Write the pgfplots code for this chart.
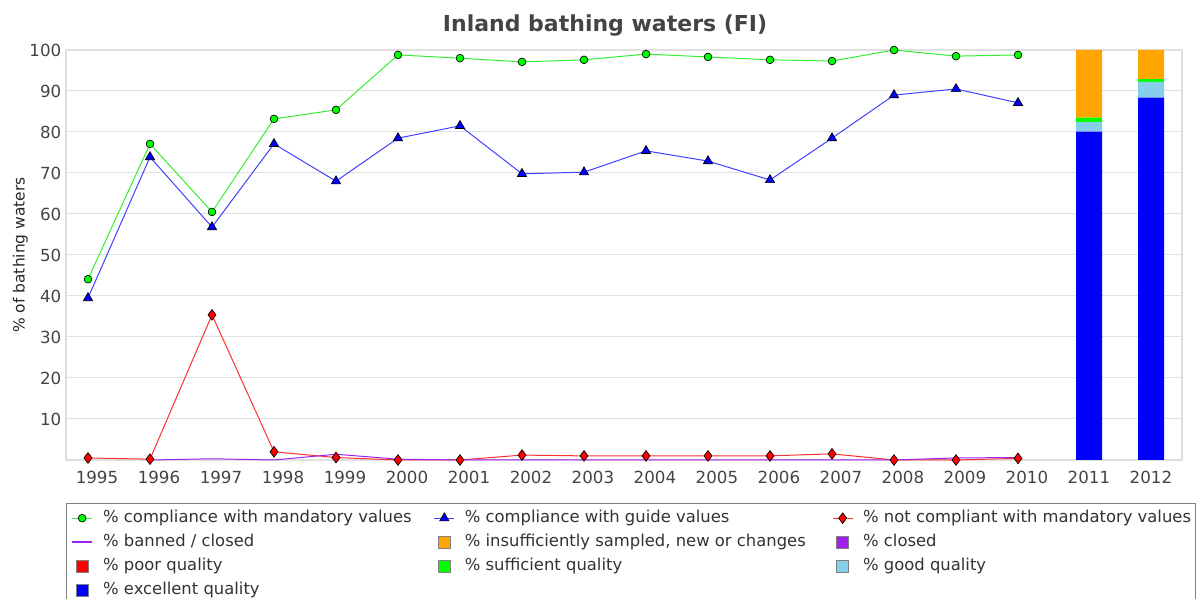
\documentclass[border=0pt]{standalone}
\usepackage{pgfplots}
\usepackage{pgfplotstable}
\pgfplotsset{compat=1.18}
\usepackage{fontspec}
\setmainfont{DejaVu Sans}
\definecolor{cgreen}{HTML}{00FF00}
\definecolor{cgreenline}{HTML}{33EE33}
\definecolor{cblue}{HTML}{0000FF}
\definecolor{cblueline}{HTML}{4040FF}
\definecolor{cred}{HTML}{FF0000}
\definecolor{credline}{HTML}{FF3030}
\definecolor{cpurple}{HTML}{A020F0}
\definecolor{corange}{HTML}{FFA500}
\definecolor{csky}{HTML}{87CEEB}
\definecolor{ctext}{HTML}{444444}
\definecolor{cgrid}{HTML}{E0E0E0}

\pgfplotstableread{
year mand guide notc
1995 44.1 39.5 0.5
1996 77.1 73.9 0.2
1997 60.5 56.8 35.4
1998 83.2 77.1 2.0
1999 85.4 68.0 0.6
2000 98.8 78.5 0.0
2001 98.0 81.5 0.0
2002 97.1 69.8 1.2
2003 97.6 70.2 1.0
2004 99.0 75.4 1.0
2005 98.3 72.9 1.0
2006 97.6 68.3 1.0
2007 97.3 78.5 1.5
2008 100.0 89.0 0.0
2009 98.5 90.5 0.0
2010 98.8 87.1 0.4
}\linedata

\pgfplotstableread{
year ban
1996 0.0
1997 0.3
1998 0.0
1999 1.4
2000 0.2
2001 0.0
2002 0.0
2003 0.0
2004 0.0
2005 0.0
2006 0.0
2007 0.0
2008 0.0
2009 0.5
2010 0.6
}\bandata

\pgfplotstableread{
year exc good suff insuf
2011 80.1 2.3 1.1 16.5
2012 88.4 3.8 0.7 7.1
}\bardata

\pgfplotsset{
  common/.style={at={(49.5pt,104.25pt)}, anchor=south west,
    width=837pt, height=307.5pt, scale only axis,
    xmin=1994.5, xmax=2012.5, ymin=0, ymax=100},
  mylinelegend/.style={legend image code/.code={%
    \draw[mark repeat=2,mark phase=2,##1] plot coordinates {(0pt,0pt) (7.5pt,0pt) (15pt,0pt)};}},
  mysquare/.style={legend image code/.code={%
    \draw[##1, draw=black!50, line width=0.5pt] (3pt,-4.5pt) rectangle (12pt,4.5pt);}},
}

\begin{document}
\begin{tikzpicture}
\useasboundingbox (0,0) rectangle (898.5pt,449.25pt);
\begin{axis}[common,
  ybar stacked, bar width=19.5pt,
  xtick={1995,...,2012}, ytick={10,20,...,100},
  ymajorgrids, grid style={cgrid, line width=0.75pt},
  major tick length=0pt,
  axis line style={draw=cgrid, line width=1.5pt},
  tick label style={font=\fontsize{12.5}{14}\selectfont, text=ctext},
  x tick label style={/pgf/number format/1000 sep={}, yshift=-4.5pt},
  /pgf/number format/assume math mode=true,
  title={Inland bathing waters (FI)},
  title style={at={(axis description cs:0.483,1.041)}, anchor=center,
    font=\fontsize{16.5}{19}\selectfont\bfseries, text=ctext},
  ylabel={\% of bathing waters},
  ylabel style={at={(axis description cs:-0.041,0.5)}, anchor=center,
    font=\fontsize{11.6}{14}\selectfont, text=black!85},
]
\addplot[fill=cblue, draw=none] table[x=year,y=exc]{\bardata};
\addplot[fill=csky, draw=none] table[x=year,y=good]{\bardata};
\addplot[fill=cgreen, draw=none] table[x=year,y=suff]{\bardata};
\addplot[fill=corange, draw=none] table[x=year,y=insuf]{\bardata};
\end{axis}

\begin{axis}[common, hide axis, clip=false,
  legend columns=3, legend cell align=left,
  legend style={at={(axis description cs:0,-0.1049)}, anchor=north west,
    draw=black!50, line width=0.75pt,
    font=\fontsize{12.3}{14}\selectfont, text=black!80,
    inner xsep=3.5pt, inner ysep=5pt, row sep=6pt, column sep=0pt,
    /tikz/every odd column/.append style={column sep=7.5pt},
    nodes={inner sep=0pt, text height=9pt, text depth=3pt}},
]
\addplot[credline, line width=0.75pt, xshift=-6.75pt, mark=diamond*, mark size=4pt,
  mark options={fill=cred, draw=black, line width=0.5pt}, forget plot]
  table[x=year,y=notc]{\linedata};
\addplot[cpurple, line width=0.75pt, xshift=-6.75pt, forget plot]
  table[x=year,y=ban]{\bandata};
\addplot[cblueline, line width=0.75pt, xshift=-6.75pt, mark=triangle*, mark size=4pt,
  mark options={fill=cblue, draw=black, line width=0.5pt}, forget plot]
  table[x=year,y=guide]{\linedata};
\addplot[cgreenline, line width=0.75pt, xshift=-6.75pt, mark=*, mark size=2.9pt,
  mark options={fill=cgreen, draw=black, line width=0.5pt}, forget plot]
  table[x=year,y=mand]{\linedata};

\addlegendimage{mylinelegend, cgreenline, line width=0.75pt, mark=*, mark size=2.9pt,
  mark options={fill=cgreen, draw=black, line width=0.5pt}}
\addlegendentry{\makebox[248pt][l]{\% compliance with mandatory values}}
\addlegendimage{mylinelegend, cblueline, line width=0.75pt, mark=triangle*, mark size=4pt,
  mark options={fill=cblue, draw=black, line width=0.5pt}}
\addlegendentry{\makebox[275.5pt][l]{\% compliance with guide values}}
\addlegendimage{mylinelegend, credline, line width=0.75pt, mark=diamond*, mark size=4pt,
  mark options={fill=cred, draw=black, line width=0.5pt}}
\addlegendentry{\% not compliant with mandatory values}
\addlegendimage{mylinelegend, cpurple, line width=1.5pt}
\addlegendentry{\makebox[248pt][l]{\% banned / closed}}
\addlegendimage{mysquare, fill=corange}
\addlegendentry{\makebox[275.5pt][l]{\% insufficiently sampled, new or changes}}
\addlegendimage{mysquare, fill=cpurple}
\addlegendentry{\% closed}
\addlegendimage{mysquare, fill=cred}
\addlegendentry{\makebox[248pt][l]{\% poor quality}}
\addlegendimage{mysquare, fill=cgreen}
\addlegendentry{\makebox[275.5pt][l]{\% sufficient quality}}
\addlegendimage{mysquare, fill=csky}
\addlegendentry{\% good quality}
\addlegendimage{mysquare, fill=cblue}
\addlegendentry{\makebox[248pt][l]{\% excellent quality}}
\end{axis}
\end{tikzpicture}
\end{document}
